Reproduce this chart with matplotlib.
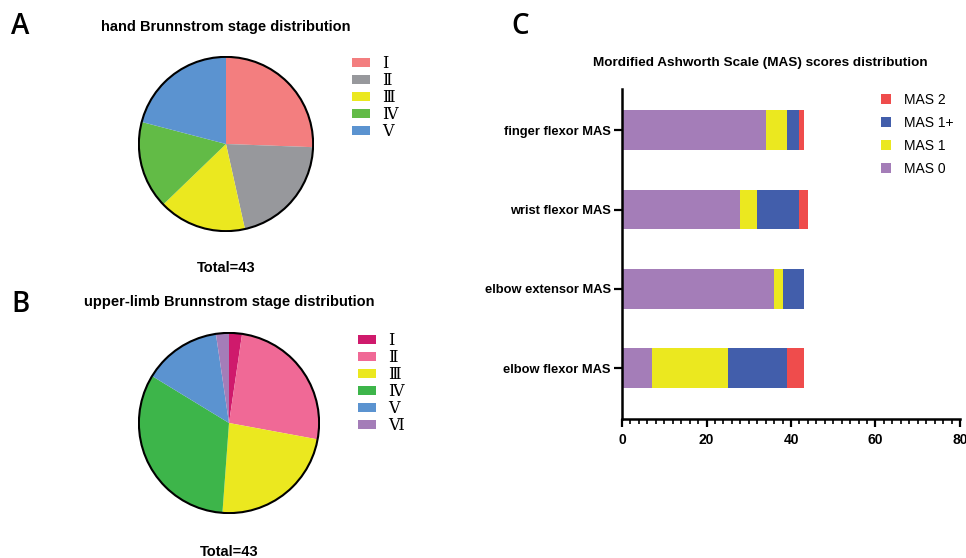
import matplotlib
matplotlib.use("Agg")
import matplotlib.pyplot as plt
from matplotlib.patches import Circle, Patch
import numpy as np

# ---------------- data ----------------
hand_labels = ["Ⅰ", "Ⅱ", "Ⅲ", "Ⅳ", "Ⅴ"]
hand_counts = [11, 9, 7, 7, 9]
hand_colors = ["#F37E7F", "#97989C", "#EBE81F", "#62BB46", "#5B93D0"]

limb_labels = ["Ⅰ", "Ⅱ", "Ⅲ", "Ⅳ", "Ⅴ", "Ⅵ"]
limb_counts = [1, 11, 10, 14, 6, 1]
limb_colors = ["#CF1A6C", "#F06996", "#EBE81F", "#3DB54A", "#5B93D0", "#A47DB8"]

mas_categories = ["elbow flexor MAS", "elbow extensor MAS", "wrist flexor MAS", "finger flexor MAS"]
mas0 = [7, 36, 28, 34]
mas1 = [18, 2, 4, 5]
mas1p = [14, 5, 10, 3]
mas2 = [4, 0, 2, 1]
mas_series_names = ["MAS 0", "MAS 1", "MAS 1+", "MAS 2"]
mas_colors = ["#A47DB8", "#EBE81F", "#425EAB", "#EF4C4C"]

title_font = "Liberation Sans"
roman_family = ["DejaVu Serif", "Noto Sans CJK SC"]

W, H = 966, 558
fig = plt.figure(figsize=(W / 100, H / 100), dpi=100)


def fax(x0, y0, x1, y1):
    """axes from pixel box (top-left origin)"""
    return fig.add_axes([x0 / W, 1 - y1 / H, (x1 - x0) / W, (y1 - y0) / H])


def pie_panel(cx, cy, r, counts, colors, labels, title, title_y, total_y, leg_x, leg_y):
    ax = fax(cx - r, cy - r, cx + r, cy + r)
    ax.pie(counts, colors=colors, startangle=90, counterclock=False,
           wedgeprops=dict(linewidth=0))
    ax.add_patch(Circle((0, 0), 1, fill=False, edgecolor="black", lw=1.5))
    ax.set_xlim(-1.01, 1.01)
    ax.set_ylim(-1.01, 1.01)
    ax.set_aspect("equal")
    ax.axis("off")
    fig.text(cx / W, 1 - title_y / H, title, ha="center", va="center",
             fontsize=10.5, fontweight="bold", family=title_font)
    fig.text(cx / W, 1 - total_y / H, "Total=43", ha="center", va="center",
             fontsize=10.5, fontweight="bold", family=title_font)
    handles = [Patch(facecolor=c, edgecolor="none") for c in colors]
    fig.legend(handles, labels, loc="upper left",
               bbox_to_anchor=(leg_x / W, 1 - leg_y / H),
               frameon=False, borderpad=0, borderaxespad=0,
               handlelength=1.15, handleheight=0.55, handletextpad=0.75,
               labelspacing=0.0, prop=dict(family=roman_family, size=11.5))


pie_panel(226, 144, 88, hand_counts, hand_colors, hand_labels,
          "hand Brunnstrom stage distribution", 27, 268, 352, 55)
pie_panel(229, 423, 91, limb_counts, limb_colors, limb_labels,
          "upper-limb Brunnstrom stage distribution", 302, 552, 358, 332)

for letter, x, y in [("A", 20, 27), ("B", 20, 305), ("C", 520, 27)]:
    fig.text(x / W, 1 - y / H, letter, ha="center", va="center",
             fontsize=20, fontweight="semibold", family=["Open Sans", "Noto Sans"])

# ---------------- bar chart ----------------
ax = fax(622, 89, 960, 419)
ypos = np.arange(len(mas_categories))
left = np.zeros(len(mas_categories))
bars = []
for vals, name, col in zip([mas0, mas1, mas1p, mas2], mas_series_names, mas_colors):
    b = ax.barh(ypos, vals, left=left, height=0.5, color=col, label=name, linewidth=0)
    bars.append(b)
    left = left + np.array(vals)

ax.set_xlim(0, 80)
ax.set_ylim(-0.64, 3.52)
ax.set_yticks(ypos)
ax.set_yticklabels(mas_categories, fontsize=9.3, fontweight="bold", family=title_font)
ax.set_xticks([0, 20, 40, 60, 80])
ax.set_xticks(np.arange(0, 81, 2), minor=True)
for lab in ax.get_xticklabels():
    lab.set_fontweight("bold")
    lab.set_fontsize(10)
    lab.set_family(title_font)
ax.tick_params(axis="y", which="major", length=6, width=1.6, direction="out", pad=2)
ax.tick_params(axis="x", which="major", length=6, width=1.6, direction="out", pad=4)
ax.tick_params(axis="x", which="minor", length=3.5, width=1.2, direction="out")
ax.tick_params(axis="y", which="minor", length=0)
for s in ["top", "right"]:
    ax.spines[s].set_visible(False)
for s in ["left", "bottom"]:
    ax.spines[s].set_linewidth(1.8)

handles = bars[::-1]
ax.legend(handles, mas_series_names[::-1], loc="upper left",
          bbox_to_anchor=(881 / W, 1 - 93 / H), bbox_transform=fig.transFigure,
          frameon=False, borderpad=0, borderaxespad=0,
          handlelength=0.7, handleheight=0.7, handletextpad=0.95,
          labelspacing=0.64, prop=dict(family=title_font, size=10))

fig.text(760 / W, 1 - 63 / H, "Mordified Ashworth Scale (MAS) scores distribution",
         ha="center", va="center", fontsize=9.7, fontweight="bold", family=title_font)

fig.savefig("out.png", dpi=100, facecolor="white")
